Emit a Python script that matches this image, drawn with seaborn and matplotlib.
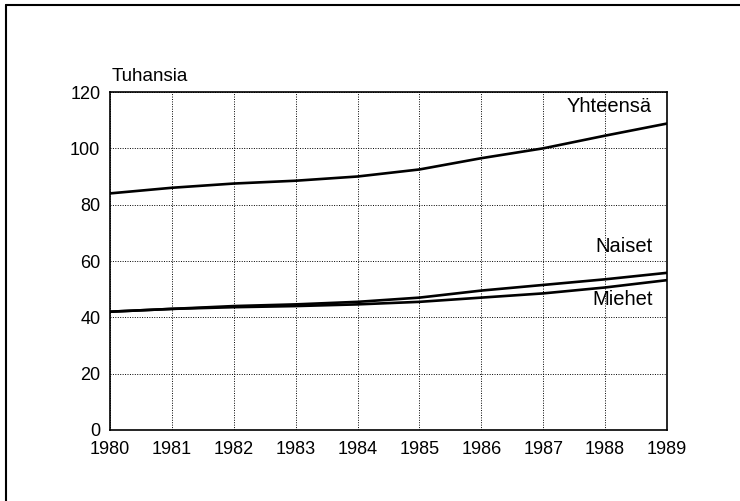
import numpy as np
import pandas as pd
import matplotlib
matplotlib.use("Agg")
import matplotlib.pyplot as plt
from matplotlib.lines import Line2D
import seaborn as sns

years = [1980, 1981, 1982, 1983, 1984, 1985, 1986, 1987, 1988, 1989]
yhteensa = [84, 86, 87.5, 88.5, 90, 92.5, 96.5, 100, 104.5, 108.8]
naiset = [42, 43, 44, 44.6, 45.5, 47, 49.5, 51.5, 53.5, 55.8]
miehet = [42, 43, 43.6, 44, 44.6, 45.5, 47, 48.5, 50.6, 53.2]
series_names = ["Yhteensä", "Naiset", "Miehet"]
yticks = [0, 20, 40, 60, 80, 100, 120]

df = pd.DataFrame({
    "year": years * 3,
    "value": yhteensa + naiset + miehet,
    "series": [series_names[0]] * 10 + [series_names[1]] * 10 + [series_names[2]] * 10,
})

sns.set_theme(style="white")
plt.rcParams["font.family"] = ["Liberation Sans", "DejaVu Sans"]
plt.rcParams["text.color"] = "black"

W, H = 740, 501
fig = plt.figure(figsize=(W / 100, H / 100), dpi=100)
ax = fig.add_axes([110 / W, 1 - 430 / H, (667 - 110) / W, (430 - 92) / H])

sns.lineplot(data=df, x="year", y="value", units="series", estimator=None,
             color="black", linewidth=1.9, ax=ax, legend=False)

ax.set_xlim(1980, 1989)
ax.set_ylim(0, 120)
ax.set_xticks(years)
ax.set_xticklabels([str(y) for y in years])
ax.set_yticks(yticks)
ax.set_yticklabels([str(v) for v in yticks])
ax.grid(True, color="black", linestyle=(0, (1, 1.5)), linewidth=0.7)
for s in ax.spines.values():
    s.set_color("black")
    s.set_linewidth(1.2)
ax.tick_params(axis="both", which="both", direction="out", length=5, width=1,
               color="black", labelsize=13, labelcolor="black", pad=2)
ax.tick_params(axis="x", pad=3)
ax.set_xlabel("")
ax.set_ylabel("")

ax.text(0.003, 1.02, "Tuhansia", transform=ax.transAxes, fontsize=13.5,
        ha="left", va="bottom", color="black")
ax.text(1988.76, 115, "Yhteensä", fontsize=14.5, ha="right", va="center", color="black")
ax.text(1988.77, 65, "Naiset", fontsize=14.5, ha="right", va="center", color="black")
ax.text(1988.77, 46.3, "Miehet", fontsize=14.5, ha="right", va="center", color="black")

# outer frame lines (left and top)
fig.add_artist(Line2D([6 / W, 6 / W], [0, 1 - 5 / H], transform=fig.transFigure,
                      color="black", linewidth=1.5))
fig.add_artist(Line2D([6 / W, 1], [1 - 5 / H, 1 - 5 / H], transform=fig.transFigure,
                      color="black", linewidth=1.5))

fig.savefig("out.png", dpi=100)
